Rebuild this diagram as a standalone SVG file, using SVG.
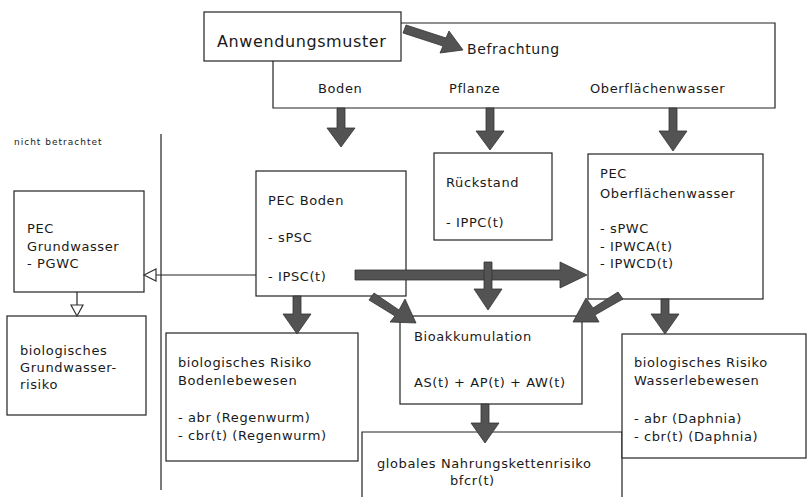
<svg xmlns="http://www.w3.org/2000/svg" width="809" height="497" viewBox="0 0 809 497">
<style>
.box{fill:#fff;stroke:#222;stroke-width:1.2}
.ln{fill:none;stroke:#222;stroke-width:1.2}
.arr{fill:#535353;stroke:#333;stroke-width:0.8}
.hol{fill:#fff;stroke:#333;stroke-width:1.2}
text{font-family:"DejaVu Sans","Liberation Sans",sans-serif;font-size:13px;fill:#1a1a1a;letter-spacing:0.6px}
.big{font-size:16px}
.mid{font-size:14px}
.sm{font-size:9px;letter-spacing:1px}
</style>
<rect width="809" height="497" fill="#fff"/>
<g id="befrachtung">
<path class="ln" d="M400,23 H775 V108 H273 V61"/>
<text class="mid" x="467" y="54">Befrachtung</text>
<text x="318" y="93">Boden</text>
<text x="449" y="93">Pflanze</text>
<text x="590" y="93">Oberflächenwasser</text>
</g>
<g id="anwendungsmuster">
<rect class="box" x="204" y="12" width="197" height="49"/>
<text class="big" x="217" y="47">Anwendungsmuster</text>
</g>
<g id="nicht-betrachtet">
<text class="sm" x="14" y="145">nicht betrachtet</text>
<line class="ln" x1="161" y1="134" x2="161" y2="490"/>
</g>
<g id="pec-grundwasser">
<rect class="box" x="14" y="191" width="130" height="101"/>
<text x="27" y="233">PEC</text>
<text x="27" y="251">Grundwasser</text>
<text x="27" y="268">- PGWC</text>
</g>
<g id="bio-grundwasser">
<rect class="box" x="7" y="316" width="139" height="99"/>
<text x="20" y="355">biologisches</text>
<text x="20" y="372">Grundwasser-</text>
<text x="20" y="389">risiko</text>
</g>
<g id="pec-boden">
<rect class="box" x="256" y="171" width="150" height="125"/>
<text x="268" y="205">PEC Boden</text>
<text x="268" y="242">- sPSC</text>
<text x="268" y="281">- IPSC(t)</text>
</g>
<g id="rueckstand">
<rect class="box" x="434" y="153" width="118" height="87"/>
<text x="446" y="187">Rückstand</text>
<text x="446" y="227">- IPPC(t)</text>
</g>
<g id="pec-oberflaechenwasser">
<rect class="box" x="588" y="154" width="175" height="145"/>
<text x="600" y="178">PEC</text>
<text x="600" y="198">Oberflächenwasser</text>
<text x="600" y="233">- sPWC</text>
<text x="600" y="251">- IPWCA(t)</text>
<text x="600" y="268">- IPWCD(t)</text>
</g>
<g id="bio-boden">
<rect class="box" x="166" y="333" width="192" height="128"/>
<text x="178" y="367">biologisches Risiko</text>
<text x="178" y="385">Bodenlebewesen</text>
<text x="178" y="422">- abr (Regenwurm)</text>
<text x="178" y="440">- cbr(t) (Regenwurm)</text>
</g>
<g id="bioakkumulation">
<rect class="box" x="400" y="316" width="182" height="88"/>
<text x="414" y="341">Bioakkumulation</text>
<text x="414" y="387">AS(t) + AP(t) + AW(t)</text>
</g>
<g id="nahrungskette">
<path class="ln" d="M362,497 V432 H622 V497"/>
<text x="377" y="468">globales Nahrungskettenrisiko</text>
<text x="450" y="485">bfcr(t)</text>
</g>
<g id="bio-wasser">
<rect class="box" x="622" y="334" width="184" height="124"/>
<text x="634" y="367">biologisches Risiko</text>
<text x="634" y="385">Wasserlebewesen</text>
<text x="634" y="423">- abr (Daphnia)</text>
<text x="634" y="441">- cbr(t) (Daphnia)</text>
</g>
<g id="connectors">
<polygon class="arr" points="406,25 446,38 449,31 463,50 440,53 443,46 403,33"/>
<polygon class="arr" points="337,108 345,108 345,128 355,128 341,147 327,128 337,128"/>
<polygon class="arr" points="486,108 494,108 494,131 504,131 490,150 476,131 486,131"/>
<polygon class="arr" points="669,108 677,108 677,131 687,131 673,151 659,131 669,131"/>
<polygon class="arr" points="355,270 560,270 560,262 587,275 560,288 560,280 355,280"/>
<polygon class="arr" points="484,262 492,262 492,289 502,289 488,310 474,289 484,289"/>
<polygon class="arr" points="369,300 374,293 399,310 405,299 416,323 390,322 395,316"/>
<polygon class="arr" points="623,299 618,292 593,308 586,298 573,322 599,322 595,315"/>
<polygon class="arr" points="293,296 301,296 301,314 311,314 297,334 283,314 293,314"/>
<polygon class="arr" points="661,299 669,299 669,314 679,314 665,334 651,314 661,314"/>
<polygon class="arr" points="481,404 489,404 489,423 499,423 485,443 471,423 481,423"/>
<line class="ln" x1="256" y1="275" x2="156" y2="275"/>
<polygon class="hol" points="144,275 156,269 156,281"/>
<line class="ln" x1="77" y1="292" x2="77" y2="305"/>
<polygon class="hol" points="77,316 71,305 83,305"/>
</g>
</svg>
